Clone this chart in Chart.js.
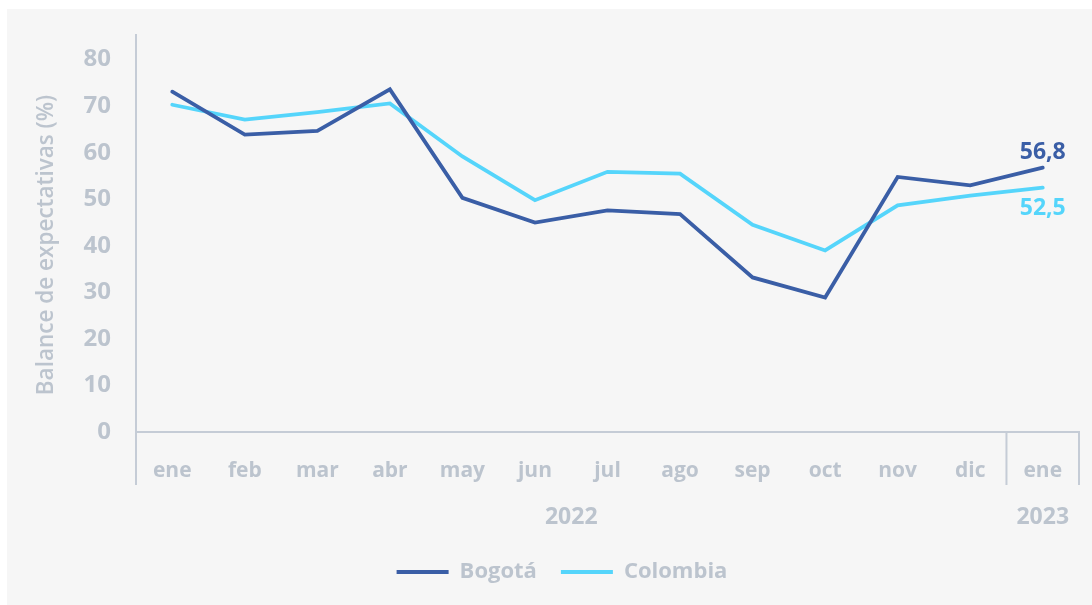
<!DOCTYPE html>
<html lang="es">
<head>
  <meta charset="UTF-8" />
  <title>Balance de expectativas</title>
  <script src="https://cdn.jsdelivr.net/npm/chart.js"></script>
  <style>
    body {
      margin: 0;
      background: #ffffff;
      font-family: 'Open Sans', sans-serif;
    }
    .panel {
      position: absolute;
      left: 7px;
      top: 9px;
      width: 1085px;
      height: 596px;
      background: #f6f6f6;
    }
  </style>
</head>
<body>

<div class="panel">
  <canvas id="chart" width="1085" height="596"></canvas>
</div>

<script>
  const months = ['ene', 'feb', 'mar', 'abr', 'may', 'jun', 'jul', 'ago', 'sep', 'oct', 'nov', 'dic', 'ene'];
  const years = ['2022', '2023'];
  const yearSpans = [12, 1];
  const bogota = [73.1, 63.9, 64.7, 73.6, 50.3, 45.0, 47.6, 46.8, 33.2, 28.9, 54.8, 53.0, 56.8];
  const colombia = [70.3, 67.1, 68.7, 70.6, 59.2, 49.8, 55.9, 55.5, 44.5, 39.0, 48.7, 50.8, 52.5];
  const yTicks = [0, 10, 20, 30, 40, 50, 60, 70, 80];

  const grey = '#bcc4ce';
  const lineGrey = '#c5ccd6';
  const blue = '#3a5ea6';
  const cyan = '#55d5fb';

  // axis extras: y line running down past the x axis, year groups, end labels, y title
  const extras = {
    id: 'extras',
    afterDraw(chart) {
      const ctx = chart.ctx;
      const area = chart.chartArea;
      const x = chart.scales.x;
      const y = chart.scales.y;
      const drop = 53;

      ctx.save();
      ctx.strokeStyle = lineGrey;
      ctx.lineWidth = 2;
      ctx.beginPath();
      ctx.moveTo(area.left, area.top);
      ctx.lineTo(area.left, area.bottom + drop);
      ctx.stroke();

      // group boundaries
      let start = 0;
      ctx.font = 'bold 23px "Open Sans"';
      ctx.fillStyle = grey;
      ctx.textAlign = 'center';
      ctx.textBaseline = 'middle';
      years.forEach((yr, i) => {
        const end = start + yearSpans[i] - 1;
        const left = start === 0 ? area.left : (x.getPixelForValue(start - 1) + x.getPixelForValue(start)) / 2;
        const right = end === months.length - 1 ? area.right : (x.getPixelForValue(end) + x.getPixelForValue(end + 1)) / 2;
        ctx.beginPath();
        ctx.moveTo(right, area.bottom);
        ctx.lineTo(right, area.bottom + drop);
        ctx.stroke();
        ctx.fillText(yr, (left + right) / 2, area.bottom + 85);
        start = end + 1;
      });

      // end-of-series labels
      const last = months.length - 1;
      const lx = x.getPixelForValue(last);
      ctx.font = 'bold 23px "Open Sans"';
      ctx.fillStyle = blue;
      ctx.fillText(bogota[last].toFixed(1).replace('.', ','), lx, y.getPixelForValue(bogota[last]) - 15);
      ctx.fillStyle = cyan;
      ctx.fillText(colombia[last].toFixed(1).replace('.', ','), lx, y.getPixelForValue(colombia[last]) + 21);

      // y axis title
      ctx.translate(40, 236);
      ctx.rotate(-Math.PI / 2);
      ctx.font = '600 22.5px "Open Sans"';
      ctx.fillStyle = grey;
      ctx.fillText('Balance de expectativas (%)', 0, 0);
      ctx.restore();
    }
  };

  new Chart(document.getElementById('chart'), {
    type: 'line',
    data: {
      labels: months,
      datasets: [
        {
          label: 'Bogotá',
          data: bogota,
          borderColor: blue,
          backgroundColor: blue,
          borderWidth: 3.8,
          borderCapStyle: 'round',
          pointRadius: 0,
          tension: 0
        },
        {
          label: 'Colombia',
          data: colombia,
          borderColor: cyan,
          backgroundColor: cyan,
          borderWidth: 3.8,
          borderCapStyle: 'round',
          pointRadius: 0,
          tension: 0
        }
      ]
    },
    options: {
      responsive: false,
      animation: false,
      layout: { padding: { top: 25, right: 13, left: 38, bottom: 15 } },
      plugins: {
        tooltip: { enabled: false },
        legend: {
          position: 'bottom',
          maxHeight: 53,
          labels: {
            usePointStyle: true,
            pointStyle: 'line',
            pointStyleWidth: 52,
            padding: 24,
            color: grey,
            font: { family: 'Open Sans', size: 22, weight: 'bold' }
          }
        }
      },
      scales: {
        x: {
          offset: true,
          grid: { display: false, drawTicks: false },
          border: { display: true, color: lineGrey, width: 2 },
          ticks: {
            color: grey,
            padding: 26,
            maxRotation: 0,
            font: { family: 'Open Sans', size: 21, weight: 'bold' }
          },
          afterFit(scale) { scale.height = 105; }
        },
        y: {
          min: 0,
          max: 85.5,
          grid: { display: false, drawTicks: false },
          border: { display: false },
          afterBuildTicks(scale) {
            scale.ticks = yTicks.map(v => ({ value: v }));
          },
          ticks: {
            color: grey,
            padding: 25,
            font: { family: 'Open Sans', size: 24, weight: 'bold' }
          },
          afterFit(scale) {
            scale.width = 91;
            scale.paddingTop = 0;
            scale.paddingBottom = 0;
          }
        }
      }
    },
    plugins: [extras]
  });
</script>

</body>
</html>
